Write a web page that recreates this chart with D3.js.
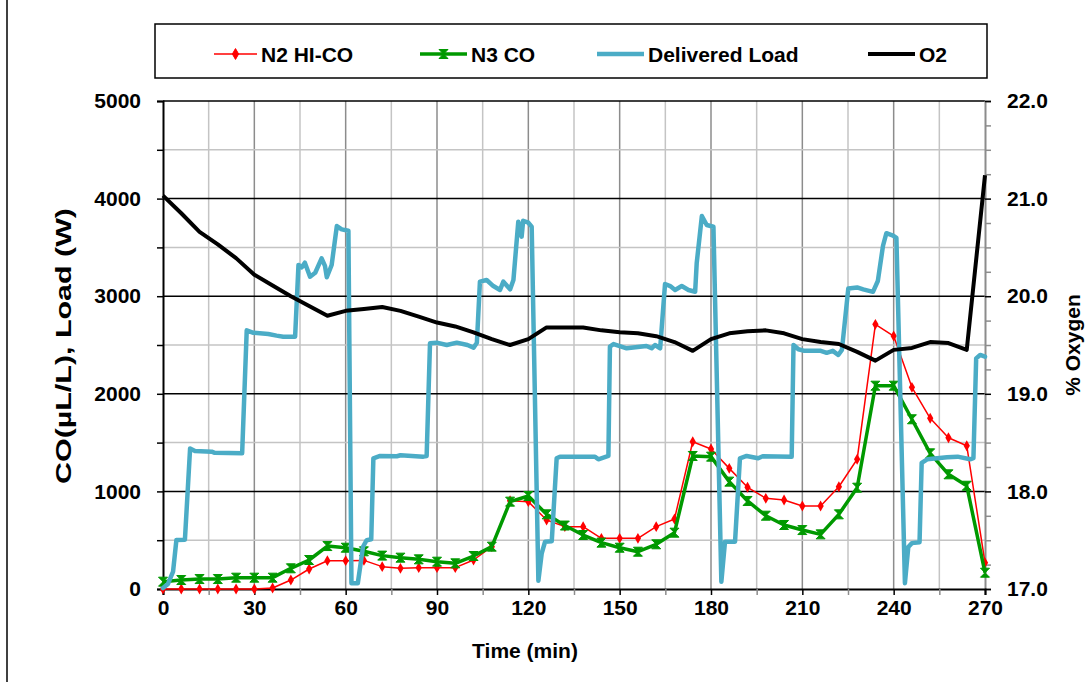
<!DOCTYPE html>
<html>
<head>
<meta charset="utf-8">
<script src="https://cdn.jsdelivr.net/npm/d3@7"></script>
<style>
  html, body { margin: 0; padding: 0; background: #fff; }
  svg { display: block; font-family: "Liberation Sans", Arial, sans-serif; }
</style>
</head>
<body>
<svg id="chart" width="1085" height="682"></svg>
<script>
// ---------------- DATA ----------------
const seriesNames = ["N2 HI-CO", "N3 CO", "Delivered Load", "O2"];

const coTime = [0, 6, 12, 18, 24, 30, 36, 42, 48, 54, 60, 66, 72, 78, 84, 90, 96, 102, 108, 114, 120, 126, 132, 138, 144, 150, 156, 162, 168, 174, 180, 186, 192, 198, 204, 210, 216, 222, 228, 234, 240, 246, 252, 258, 264, 270];

const n2HiCO = [0, 0, 0, 0, 0, 0, 10, 92, 205, 290, 290, 293, 229, 212, 219, 219, 219, 297, 434, 905, 895, 707, 639, 639, 519, 519, 519, 639, 717, 1509, 1434, 1236, 1042, 929, 912, 850, 850, 1048, 1329, 2712, 2592, 2066, 1749, 1550, 1468, 270];

const n3CO = [75, 92, 102, 102, 116, 116, 116, 212, 297, 440, 423, 386, 342, 321, 304, 280, 263, 338, 434, 895, 953, 765, 650, 553, 475, 423, 382, 458, 577, 1363, 1356, 1100, 902, 751, 656, 604, 560, 765, 1038, 2083, 2083, 1739, 1390, 1175, 1058, 167];

const o2 = [21.03, 20.85, 20.66, 20.53, 20.39, 20.22, 20.11, 20.00, 19.90, 19.80, 19.85, 19.87, 19.89, 19.85, 19.79, 19.73, 19.69, 19.63, 19.56, 19.50, 19.56, 19.68, 19.68, 19.68, 19.65, 19.63, 19.62, 19.59, 19.53, 19.44, 19.56, 19.62, 19.64, 19.65, 19.62, 19.56, 19.53, 19.51, 19.43, 19.34, 19.45, 19.47, 19.53, 19.52, 19.45, 21.24];

const loadTime = [0, 1.6, 3.3, 4.4, 7.2, 8.9, 10.5, 16, 17, 26, 27.5, 29.7, 34.6, 37.3, 39.5, 43.4, 44.5, 45.6, 46.6, 48.3, 50, 52.1, 53.2, 53.8, 55.4, 57.1, 58.7, 60.9, 61.9, 64, 65.7, 66.9, 68.4, 69.1, 71.3, 76.8, 78, 85.5, 86.6, 87.7, 89.9, 93.2, 96.5, 100, 102, 103.1, 104.1, 106.3, 108.5, 110.7, 111.8, 114, 115.1, 116.7, 117.8, 118.3, 120, 121.1, 123.3, 124.4, 125.5, 127.7, 129.3, 130.4, 141.9, 143, 146.3, 146.8, 148, 152.3, 158.8, 160.5, 161.6, 163.3, 164.9, 166.6, 168.2, 170.4, 172.6, 174.8, 175.3, 177, 178.6, 180.8, 183.4, 184.6, 187.9, 189.5, 191.7, 195.5, 197, 206.5, 207.1, 208.7, 210.4, 215.8, 218, 220, 221.8, 223, 225.1, 228, 230, 233.2, 234.8, 236.5, 237.6, 239.8, 240.9, 243.7, 244.8, 246, 248.5, 249.2, 251, 257.5, 261, 265.1, 266.2, 267.1, 268.4, 270];

const loadValue = [10, 51, 177, 502, 505, 1440, 1415, 1407, 1395, 1392, 2650, 2625, 2613, 2596, 2585, 2585, 3320, 3296, 3343, 3200, 3240, 3388, 3310, 3194, 3320, 3719, 3685, 3671, 60, 60, 433, 500, 510, 1339, 1363, 1360, 1370, 1356, 1363, 2517, 2524, 2500, 2524, 2500, 2473, 2524, 3149, 3166, 3104, 3064, 3149, 3070, 3166, 3763, 3610, 3773, 3753, 3712, 85, 366, 485, 490, 1339, 1356, 1356, 1329, 1363, 2483, 2510, 2466, 2490, 2466, 2500, 2466, 3125, 3104, 3064, 3104, 3064, 3046, 3337, 3822, 3730, 3712, 75, 485, 485, 1339, 1363, 1339, 1360, 1356, 2500, 2456, 2442, 2442, 2420, 2440, 2398, 2450, 3080, 3090, 3070, 3045, 3156, 3517, 3645, 3621, 3597, 60, 430, 470, 480, 1293, 1329, 1349, 1356, 1329, 1340, 2363, 2398, 2380];

const xTicks = [0, 30, 60, 90, 120, 150, 180, 210, 240, 270];
const yLeftTicks = [0, 1000, 2000, 3000, 4000, 5000];
const yRightTicks = [17.0, 18.0, 19.0, 20.0, 21.0, 22.0];

const colors = { n2: "#ff0000", n3: "#009900", load: "#4bacc6", o2: "#000000" };

// ---------------- LAYOUT ----------------
const svg = d3.select("#chart");
const W = 1085, H = 682;
const plot = { left: 163, right: 985, top: 101, bottom: 589 };
const FONT = 21;

const x = d3.scaleLinear().domain([0, 270]).range([plot.left, plot.right]);
const yL = d3.scaleLinear().domain([0, 5000]).range([plot.bottom, plot.top]);
const yR = d3.scaleLinear().domain([17, 22]).range([plot.bottom, plot.top]);

// chart border (left edge visible)
svg.append("line").attr("x1", 7).attr("x2", 7).attr("y1", 0).attr("y2", H)
  .attr("stroke", "#000").attr("stroke-width", 1.5);

// ---------------- GRID ----------------
const grid = svg.append("g");
d3.range(15, 270, 15).forEach(t => {
  grid.append("line")
    .attr("x1", x(t)).attr("x2", x(t)).attr("y1", plot.top).attr("y2", plot.bottom)
    .attr("stroke", t % 30 === 0 ? "#8c8c8c" : "#c4c4c4").attr("stroke-width", 1.5);
});
d3.range(500, 5001, 500).forEach(v => {
  grid.append("line")
    .attr("x1", plot.left).attr("x2", plot.right).attr("y1", yL(v)).attr("y2", yL(v))
    .attr("stroke", v % 1000 === 0 ? "#000" : "#c4c4c4").attr("stroke-width", 1.5);
});

// ---------------- AXES ----------------
const axL = svg.append("g").attr("transform", `translate(${plot.left},0)`)
  .call(d3.axisLeft(yL).tickValues(d3.range(0, 5001, 500)).tickSize(6).tickPadding(16)
    .tickFormat(d => yLeftTicks.includes(d) ? d3.format("d")(d) : ""));
axL.select(".domain").attr("stroke", "#000").attr("stroke-width", 2);
axL.selectAll(".tick line").attr("stroke", "#000").attr("stroke-width", 1.5);

const axR = svg.append("g").attr("transform", `translate(${plot.right},0)`)
  .call(d3.axisRight(yR).tickValues(d3.range(17, 22.001, 0.25)).tickSize(6).tickPadding(16)
    .tickFormat(d => yRightTicks.some(t => Math.abs(t - d) < 1e-6) ? d3.format(".1f")(d) : ""));
axR.select(".domain").attr("stroke", "#8c8c8c").attr("stroke-width", 2);
axR.selectAll(".tick line").attr("stroke", d => Math.abs(d - Math.round(d)) < 1e-6 ? "#000" : "#8c8c8c").attr("stroke-width", 1.5);

const axB = svg.append("g").attr("transform", `translate(0,${plot.bottom})`)
  .call(d3.axisBottom(x).tickValues(d3.range(0, 271, 15)).tickSize(6).tickPadding(5)
    .tickFormat(d => xTicks.includes(d) ? d : ""));
axB.select(".domain").attr("stroke", "#000").attr("stroke-width", 2);
axB.selectAll(".tick line").attr("stroke", d => d % 30 === 0 ? "#000" : "#8c8c8c").attr("stroke-width", 1.5);

svg.selectAll(".tick text").attr("font-size", FONT).attr("font-weight", "bold")
  .attr("fill", "#000").attr("font-family", "'Liberation Sans', Arial, sans-serif");

// axis titles
svg.append("text").attr("x", 525).attr("y", 658).attr("text-anchor", "middle")
  .attr("font-size", FONT).attr("font-weight", "bold").text("Time (min)");
svg.append("text").attr("transform", "translate(71,346) rotate(-90)").attr("text-anchor", "middle")
  .attr("font-size", 22).attr("font-weight", "bold")
  .attr("textLength", 276).attr("lengthAdjust", "spacingAndGlyphs")
  .text("CO(µL/L), Load (W)");
svg.append("text").attr("transform", "translate(1080,345) rotate(-90)").attr("text-anchor", "middle")
  .attr("font-size", FONT).attr("font-weight", "bold").text("% Oxygen");

// ---------------- SERIES ----------------
const coN2 = coTime.map((t, i) => ({ t, v: n2HiCO[i] }));
const coN3 = coTime.map((t, i) => ({ t, v: n3CO[i] }));
const loadPts = loadTime.map((t, i) => ({ t, v: loadValue[i] }));
const o2Pts = coTime.map((t, i) => ({ t, v: o2[i] }));

const lineL = d3.line().x(d => x(d.t)).y(d => yL(d.v));
const lineR = d3.line().x(d => x(d.t)).y(d => yR(d.v));

const hourglass = "M-4.5,-4.5L4.5,-4.5L-4.5,4.5L4.5,4.5Z";
const diamond = d3.symbol().type(d3.symbolDiamond).size(34)();

// N2 HI-CO
svg.append("path").datum(coN2).attr("d", lineL).attr("fill", "none")
  .attr("stroke", colors.n2).attr("stroke-width", 1.5).attr("stroke-linejoin", "round");
svg.append("g").selectAll("path").data(coN2).join("path")
  .attr("d", diamond).attr("transform", d => `translate(${x(d.t)},${yL(d.v)})`).attr("fill", colors.n2);

// N3 CO
svg.append("path").datum(coN3).attr("d", lineL).attr("fill", "none")
  .attr("stroke", colors.n3).attr("stroke-width", 3.5).attr("stroke-linejoin", "round");
svg.append("g").selectAll("path").data(coN3).join("path")
  .attr("d", hourglass).attr("transform", d => `translate(${x(d.t)},${yL(d.v)})`)
  .attr("fill", colors.n3).attr("stroke", colors.n3).attr("stroke-width", 1);

// Delivered Load
svg.append("path").datum(loadPts).attr("d", lineL).attr("fill", "none")
  .attr("stroke", colors.load).attr("stroke-width", 4.5).attr("stroke-linejoin", "round").attr("stroke-linecap", "round");

// O2
svg.append("path").datum(o2Pts).attr("d", lineR).attr("fill", "none")
  .attr("stroke", colors.o2).attr("stroke-width", 4).attr("stroke-linejoin", "round");

// ---------------- LEGEND ----------------
const leg = svg.append("g");
leg.append("rect").attr("x", 155).attr("y", 24).attr("width", 832).attr("height", 54)
  .attr("fill", "#fff").attr("stroke", "#000").attr("stroke-width", 1.5);
const legItems = [
  { name: seriesNames[0], color: colors.n2, w: 1.5, x0: 214, x1: 257, mark: diamond },
  { name: seriesNames[1], color: colors.n3, w: 3.5, x0: 420, x1: 467, mark: hourglass },
  { name: seriesNames[2], color: colors.load, w: 4.5, x0: 597, x1: 644, mark: null },
  { name: seriesNames[3], color: colors.o2, w: 4, x0: 868, x1: 915, mark: null }
];
const ly = 54;
legItems.forEach(it => {
  leg.append("line").attr("x1", it.x0).attr("x2", it.x1).attr("y1", ly).attr("y2", ly)
    .attr("stroke", it.color).attr("stroke-width", it.w);
  if (it.mark) {
    leg.append("path").attr("d", it.mark).attr("transform", `translate(${(it.x0 + it.x1) / 2},${ly})`)
      .attr("fill", it.color).attr("stroke", it.color).attr("stroke-width", 1);
  }
  leg.append("text").attr("x", it.x1 + 4).attr("y", ly + 7.5).attr("font-size", FONT)
    .attr("font-weight", "bold").text(it.name);
});
</script>
</body>
</html>
